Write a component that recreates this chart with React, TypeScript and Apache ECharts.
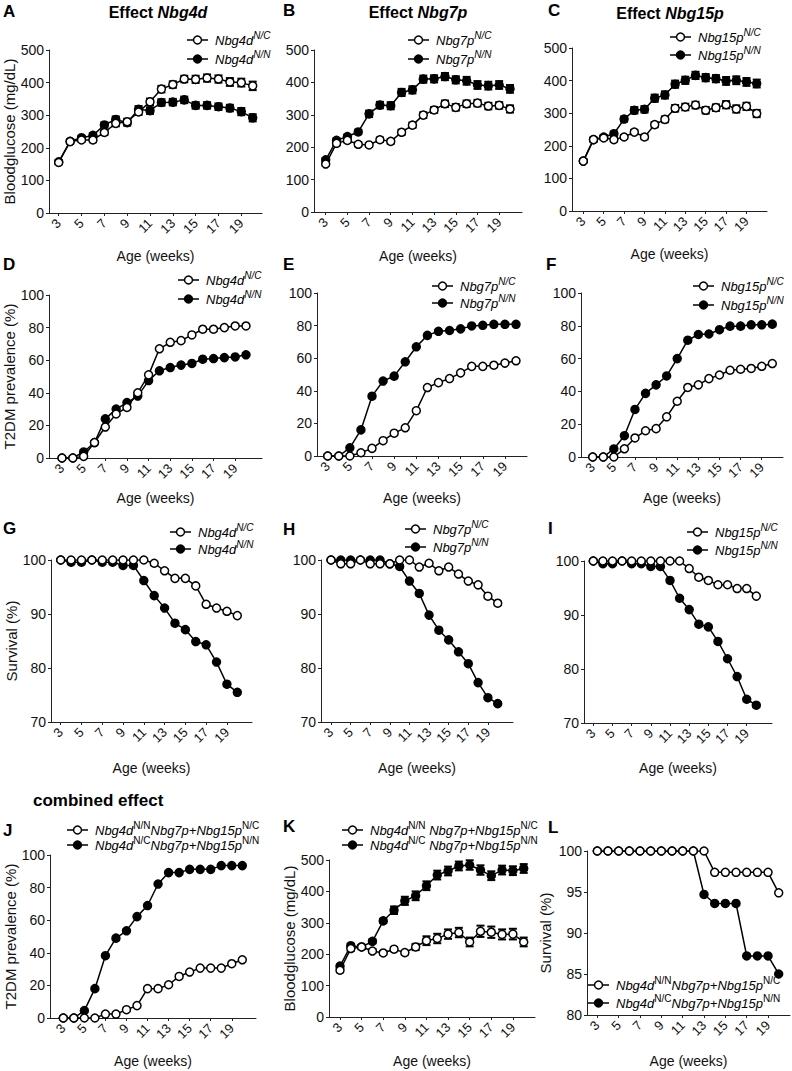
import React, { useEffect, useRef } from "react";
import * as echarts from "echarts";

const FONT = "'Liberation Sans', Arial, Helvetica, sans-serif";

// ---------- data ----------
const weeks = [3, 4, 5, 6, 7, 8, 9, 10, 11, 12, 13, 14, 15, 16, 17, 18, 19, 20];
const weekTickLabels = [3, 5, 7, 9, 11, 13, 15, 17, 19];

// A – Bloodglucose, Nbg4d
const glucoseNbg4dNC = [155, 219, 224, 224, 247, 275, 280, 310, 341, 380, 394, 411, 410, 414, 411, 402, 400, 390];
const glucoseNbg4dNCErr = [5, 6, 6, 7, 8, 9, 9, 9, 10, 10, 10, 10, 11, 11, 11, 12, 12, 13];
const glucoseNbg4dNN = [157, 220, 231, 238, 270, 287, 277, 318, 314, 339, 340, 347, 330, 330, 326, 322, 311, 292];
const glucoseNbg4dNNErr = [5, 6, 6, 7, 8, 9, 9, 10, 10, 10, 10, 10, 10, 10, 10, 10, 11, 11];
// B – Bloodglucose, Nbg7p
const glucoseNbg7pNC = [148, 212, 221, 209, 207, 223, 218, 246, 268, 299, 315, 334, 323, 334, 336, 327, 329, 318];
const glucoseNbg7pNCErr = [5, 6, 6, 6, 6, 7, 7, 8, 8, 9, 9, 10, 10, 10, 10, 10, 10, 11];
const glucoseNbg7pNN = [161, 221, 233, 247, 303, 330, 328, 369, 377, 410, 411, 418, 408, 405, 392, 390, 392, 380];
const glucoseNbg7pNNErr = [5, 6, 6, 7, 10, 10, 11, 11, 11, 11, 11, 11, 11, 12, 12, 12, 12, 12];
// C – Bloodglucose, Nbg15p
const glucoseNbg15pNC = [153, 219, 224, 219, 227, 242, 227, 265, 281, 315, 319, 325, 309, 317, 326, 313, 321, 299];
const glucoseNbg15pNCErr = [5, 6, 6, 6, 6, 7, 7, 8, 9, 10, 10, 10, 10, 10, 11, 11, 11, 11];
const glucoseNbg15pNN = [153, 219, 227, 237, 282, 309, 312, 346, 356, 389, 401, 416, 409, 406, 399, 401, 396, 391];
const glucoseNbg15pNNErr = [5, 6, 6, 7, 8, 10, 10, 11, 11, 11, 11, 11, 11, 11, 12, 12, 12, 12];

// D–F – T2DM prevalence (%)
const prevNbg4dNC = [0, 0, 1, 9.5, 19, 27, 31, 40, 51, 67, 71, 72, 75.5, 79, 79, 80, 81, 81];
const prevNbg4dNN = [0, 0, 3.7, 9.5, 24, 30, 34, 38, 47.5, 53.5, 55.5, 57, 58, 60.6, 61, 61.6, 62, 63.3];
const prevNbg7pNC = [0, 0, 0, 2, 4.7, 9.4, 14, 17.3, 27.8, 42, 45, 47.5, 51, 55, 55, 55.7, 57, 58.4];
const prevNbg7pNN = [0, 0, 5, 16, 36.7, 46, 49, 57.8, 67, 74, 76.5, 77, 78, 79.8, 80.2, 80.8, 80.8, 80.8];
const prevNbg15pNC = [0, 0, 0, 5, 11.6, 16, 17.3, 24.5, 34, 42.4, 44, 47.8, 50, 52.9, 53.5, 54, 55.3, 57];
const prevNbg15pNN = [0, 0, 4.9, 13, 29, 38.8, 44, 49.4, 60, 71.2, 74.7, 75, 77.6, 79.8, 79.8, 80.6, 80.6, 81];

// G–I – Survival (%)
const survNbg4dNC = [100, 100, 100, 100, 100, 100, 100, 100, 100, 99.4, 98, 96.6, 96.6, 95.2, 91.8, 91.1, 90.5, 89.7];
const survNbg4dNN = [100, 99.6, 99.6, 100, 99.6, 99.6, 99, 99, 96.2, 93.4, 91.1, 88.3, 87.1, 84.9, 84.3, 81.1, 77, 75.5];
const survNbg7pNC = [100, 99.3, 99.3, 100, 99.3, 99.3, 99.3, 100, 100, 98.7, 99.4, 98, 98.7, 97.4, 96.1, 95.4, 93.3, 92];
const survNbg7pNN = [100, 100, 100, 100, 100, 100, 99.3, 98.8, 96.1, 93.8, 89.8, 87, 85.2, 83, 80.8, 77.3, 74.5, 73.4];
const survNbg15pNC = [100, 100, 100, 100, 100, 100, 100, 100, 100, 100, 98.6, 97, 96.4, 95.6, 95.6, 94.9, 94.9, 93.5];
const survNbg15pNN = [100, 99.5, 99.5, 100, 99.5, 99.5, 99, 99, 96.4, 93.1, 91, 88.3, 87.8, 85.1, 81.9, 78.6, 74.4, 73.3];

// J–L – combined effect
const prevComboNC = [0, 0, 0, 0, 2.4, 2.4, 5.1, 7.6, 18, 18, 20.4, 25.5, 28.2, 30.6, 30.6, 30.6, 33.3, 35.7];
const prevComboNN = [0, 0, 4.5, 18, 38.2, 49, 53.5, 62.2, 69, 82.2, 89.2, 89.2, 91.2, 91.2, 91.2, 93.5, 93.5, 93.5];
const glucoseComboNC = [149, 218, 223, 210, 204, 216, 205, 223, 243, 250, 264, 269, 239, 273, 270, 263, 264, 239];
const glucoseComboNCErr = [6, 7, 7, 6, 6, 6, 6, 10, 14, 15, 15, 15, 14, 18, 18, 16, 17, 14];
const glucoseComboNN = [162, 227, 223, 241, 306, 340, 370, 386, 418, 452, 465, 481, 484, 468, 450, 468, 466, 473];
const glucoseComboNNErr = [5, 6, 6, 6, 7, 12, 13, 14, 14, 14, 14, 14, 15, 15, 14, 14, 14, 14];
const survComboNC = [100, 100, 100, 100, 100, 100, 100, 100, 100, 100, 100, 97.4, 97.4, 97.4, 97.4, 97.4, 97.4, 94.9];
const survComboNN = [100, 100, 100, 100, 100, 100, 100, 100, 100, 100, 94.7, 93.6, 93.6, 93.6, 87.2, 87.2, 87.2, 85];

// ---------- legend labels (rich text) ----------
const lg4dNC = "{i|Nbg4d}{si|N/C}";
const lg4dNN = "{i|Nbg4d}{si|N/N}";
const lg7pNC = "{i|Nbg7p}{si|N/C}";
const lg7pNN = "{i|Nbg7p}{si|N/N}";
const lg15pNC = "{i|Nbg15p}{si|N/C}";
const lg15pNN = "{i|Nbg15p}{si|N/N}";
const lgComboNC = "{i|Nbg4d}{s|N/N}{i|Nbg7p+Nbg15p}{s|N/C}";
const lgComboNN = "{i|Nbg4d}{s|N/C}{i|Nbg7p+Nbg15p}{s|N/N}";
const lgComboNCsp = "{i|Nbg4d}{s|N/N}{i| Nbg7p+Nbg15p}{s|N/C}";
const lgComboNNsp = "{i|Nbg4d}{s|N/C}{i| Nbg7p+Nbg15p}{s|N/N}";

const yGlucose = "Bloodglucose (mg/dL)";
const yPrev = "T2DM prevalence (%)";
const ySurv = "Survival (%)";
const xName = "Age (weeks)";

type Layout = {
  left: number; right: number; top: number; bottom: number;
  x3: number; x20: number; xNameY: number; yNameX: number | null;
};
type Panel = {
  letter: string; lx: number; ly: number;
  nc: number[]; nn: number[]; ncErr?: number[]; nnErr?: number[];
  yMin: number; yMax: number; yStep: number; yName: string;
  legend: { x: number; y1: number; y2: number; nc: string; nn: string };
  L: Layout;
};

const panels: Panel[] = [
  { letter: "A", lx: 3, ly: 11, nc: glucoseNbg4dNC, nn: glucoseNbg4dNN, ncErr: glucoseNbg4dNCErr, nnErr: glucoseNbg4dNNErr,
    yMin: 0, yMax: 500, yStep: 100, yName: yGlucose,
    legend: { x: 187, y1: 40, y2: 59, nc: lg4dNC, nn: lg4dNN },
    L: { left: 49, right: 262, top: 50, bottom: 213, x3: 58.7, x20: 252.7, xNameY: 257, yNameX: 10 } },
  { letter: "B", lx: 283, ly: 10, nc: glucoseNbg7pNC, nn: glucoseNbg7pNN, ncErr: glucoseNbg7pNCErr, nnErr: glucoseNbg7pNNErr,
    yMin: 0, yMax: 500, yStep: 100, yName: "",
    legend: { x: 408, y1: 40, y2: 59, nc: lg7pNC, nn: lg7pNN },
    L: { left: 314, right: 522, top: 50, bottom: 212, x3: 325.7, x20: 510, xNameY: 257, yNameX: null } },
  { letter: "C", lx: 548, ly: 10, nc: glucoseNbg15pNC, nn: glucoseNbg15pNN, ncErr: glucoseNbg15pNCErr, nnErr: glucoseNbg15pNNErr,
    yMin: 0, yMax: 500, yStep: 100, yName: "",
    legend: { x: 670, y1: 37, y2: 55, nc: lg15pNC, nn: lg15pNN },
    L: { left: 572, right: 767, top: 48, bottom: 211, x3: 583.3, x20: 756.7, xNameY: 255, yNameX: null } },
  { letter: "D", lx: 3, ly: 264, nc: prevNbg4dNC, nn: prevNbg4dNN,
    yMin: 0, yMax: 100, yStep: 20, yName: yPrev,
    legend: { x: 178, y1: 280, y2: 299, nc: lg4dNC, nn: lg4dNN },
    L: { left: 49, right: 262, top: 295, bottom: 458, x3: 62, x20: 246, xNameY: 499, yNameX: 12 } },
  { letter: "E", lx: 283, ly: 264, nc: prevNbg7pNC, nn: prevNbg7pNN,
    yMin: 0, yMax: 100, yStep: 20, yName: "",
    legend: { x: 432, y1: 286, y2: 303, nc: lg7pNC, nn: lg7pNN },
    L: { left: 317, right: 527, top: 293, bottom: 456, x3: 327.7, x20: 516, xNameY: 499, yNameX: null } },
  { letter: "F", lx: 546, ly: 264, nc: prevNbg15pNC, nn: prevNbg15pNN,
    yMin: 0, yMax: 100, yStep: 20, yName: "",
    legend: { x: 693, y1: 286, y2: 305, nc: lg15pNC, nn: lg15pNN },
    L: { left: 581, right: 783, top: 293, bottom: 457, x3: 592.7, x20: 772.3, xNameY: 499, yNameX: null } },
  { letter: "G", lx: 3, ly: 528, nc: survNbg4dNC, nn: survNbg4dNN,
    yMin: 70, yMax: 100, yStep: 10, yName: ySurv,
    legend: { x: 170, y1: 532, y2: 549, nc: lg4dNC, nn: lg4dNN },
    L: { left: 51, right: 252, top: 560, bottom: 722, x3: 60.7, x20: 237.3, xNameY: 769, yNameX: 15 } },
  { letter: "H", lx: 283, ly: 529, nc: survNbg7pNC, nn: survNbg7pNN,
    yMin: 70, yMax: 100, yStep: 10, yName: "",
    legend: { x: 405, y1: 529, y2: 547, nc: lg7pNC, nn: lg7pNN },
    L: { left: 321, right: 513, top: 560, bottom: 722, x3: 331, x20: 497.7, xNameY: 769, yNameX: null } },
  { letter: "I", lx: 548, ly: 528, nc: survNbg15pNC, nn: survNbg15pNN,
    yMin: 70, yMax: 100, yStep: 10, yName: "",
    legend: { x: 687, y1: 532, y2: 550, nc: lg15pNC, nn: lg15pNN },
    L: { left: 584, right: 772, top: 561, bottom: 723, x3: 593.3, x20: 756.3, xNameY: 769, yNameX: null } },
  { letter: "J", lx: 3, ly: 830, nc: prevComboNC, nn: prevComboNN,
    yMin: 0, yMax: 100, yStep: 20, yName: yPrev,
    legend: { x: 67, y1: 830, y2: 845, nc: lgComboNC, nn: lgComboNN },
    L: { left: 50, right: 256, top: 855, bottom: 1018, x3: 63.3, x20: 242.3, xNameY: 1062, yNameX: 13 } },
  { letter: "K", lx: 283, ly: 826, nc: glucoseComboNC, nn: glucoseComboNN, ncErr: glucoseComboNCErr, nnErr: glucoseComboNNErr,
    yMin: 0, yMax: 500, yStep: 100, yName: yGlucose,
    legend: { x: 342, y1: 830, y2: 845, nc: lgComboNCsp, nn: lgComboNNsp },
    L: { left: 329, right: 535, top: 860, bottom: 1017, x3: 340, x20: 523.7, xNameY: 1062, yNameX: 290 } },
  { letter: "L", lx: 548, ly: 827, nc: survComboNC, nn: survComboNN,
    yMin: 80, yMax: 100, yStep: 5, yName: ySurv,
    legend: { x: 588, y1: 985, y2: 1003, nc: lgComboNC, nn: lgComboNN },
    L: { left: 587, right: 790, top: 851, bottom: 1015, x3: 597.3, x20: 778.7, xNameY: 1062, yNameX: 545 } },
];

const titles = [
  { text: "Effect {bi|Nbg4d}", x: 158, y: 12 },
  { text: "Effect {bi|Nbg7p}", x: 418, y: 12 },
  { text: "Effect {bi|Nbg15p}", x: 670, y: 13 },
];

const legendRich = {
  i: { fontFamily: FONT, fontStyle: "italic", fontSize: 13, lineHeight: 20, color: "#000" },
  si: { fontFamily: FONT, fontStyle: "italic", fontSize: 10, lineHeight: 12, verticalAlign: "top", color: "#000" },
  s: { fontFamily: FONT, fontSize: 10, lineHeight: 12, verticalAlign: "top", color: "#000" },
};

function buildOption() {
  const grid: any[] = [];
  const xAxis: any[] = [];
  const yAxis: any[] = [];
  const series: any[] = [];
  const graphic: any[] = [];

  panels.forEach((p, i) => {
    const L = p.L;
    const pxw = (L.x20 - L.x3) / 17;
    const xMin = 3 - (L.x3 - L.left) / pxw;
    const xMax = 20 + (L.right - L.x20) / pxw;
    grid.push({ left: L.left, top: L.top, width: L.right - L.left, height: L.bottom - L.top, containLabel: false });
    xAxis.push({
      type: "value", gridIndex: i, min: xMin, max: xMax,
      axisLine: { show: true, lineStyle: { color: "#222", width: 1 } },
      axisTick: { show: true, length: 3, customValues: weekTickLabels, lineStyle: { color: "#222" } },
      axisLabel: { customValues: weekTickLabels, rotate: 45, fontSize: 13, color: "#111", margin: 8, fontFamily: FONT },
      splitLine: { show: false },
      name: xName, nameLocation: "middle", nameGap: L.xNameY - L.bottom - 8,
      nameTextStyle: { fontSize: 14, color: "#111", fontFamily: FONT },
    });
    yAxis.push({
      type: "value", gridIndex: i, min: p.yMin, max: p.yMax, interval: p.yStep,
      axisLine: { show: true, lineStyle: { color: "#222", width: 1 } },
      axisTick: { show: true, length: 3, lineStyle: { color: "#222" } },
      axisLabel: { fontSize: 14, color: "#111", margin: 5, fontFamily: FONT },
      splitLine: { show: false },
      name: p.yName, nameLocation: "middle", nameRotate: 90,
      nameGap: L.yNameX !== null ? L.left - L.yNameX - 8 : 30,
      nameTextStyle: { fontSize: 15, color: "#111", fontFamily: FONT },
    });

    const pts = (vals: number[]) => weeks.map((w, k) => [w, vals[k]]);
    const errSeries = (vals: number[], err: number[]) => ({
      type: "custom", xAxisIndex: i, yAxisIndex: i, z: 2, silent: true,
      encode: { x: 0, y: 1 },
      data: weeks.map((w, k) => [w, vals[k], err[k]]),
      renderItem: (_params: any, api: any) => {
        const x = api.value(0), y = api.value(1), e = api.value(2);
        const hi = api.coord([x, y + e]);
        const lo = api.coord([x, y - e]);
        const hw = 4;
        const st = { stroke: "#000", lineWidth: 2 };
        return {
          type: "group",
          children: [
            { type: "line", shape: { x1: hi[0], y1: hi[1], x2: lo[0], y2: lo[1] }, style: { stroke: "#000", lineWidth: 1.5 } },
            { type: "line", shape: { x1: hi[0] - hw, y1: hi[1], x2: hi[0] + hw, y2: hi[1] }, style: st },
            { type: "line", shape: { x1: lo[0] - hw, y1: lo[1], x2: lo[0] + hw, y2: lo[1] }, style: st },
          ],
        };
      },
    });
    if (p.ncErr) series.push(errSeries(p.nc, p.ncErr));
    if (p.nnErr) series.push(errSeries(p.nn, p.nnErr));
    const line = (vals: number[], fill: string, z: number) => ({
      type: "line", xAxisIndex: i, yAxisIndex: i, data: pts(vals), z, silent: true,
      symbol: "circle", symbolSize: 8, showSymbol: true,
      lineStyle: { color: "#000", width: 1.5 },
      itemStyle: { color: fill, borderColor: "#000", borderWidth: 1.5 },
      emphasis: { disabled: true },
    });
    series.push(line(p.nn, "#000", 3));
    series.push(line(p.nc, "#fff", 4));

    // panel letter
    graphic.push({ type: "text", x: p.lx, y: p.ly, style: { text: p.letter, fontFamily: FONT, fontWeight: "bold", fontSize: 17, fill: "#000", verticalAlign: "middle", align: "left" } });
    // legend
    const lg = p.legend;
    [[lg.y1, "#fff", lg.nc], [lg.y2, "#000", lg.nn]].forEach(([yy, fill, txt]: any) => {
      graphic.push({ type: "line", shape: { x1: lg.x, y1: yy, x2: lg.x + 21, y2: yy }, style: { stroke: "#000", lineWidth: 1.5 } });
      graphic.push({ type: "circle", shape: { cx: lg.x + 10.5, cy: yy, r: 4 }, style: { fill, stroke: "#000", lineWidth: 1.5 } });
      graphic.push({ type: "text", x: lg.x + 28, y: yy, style: { text: txt, rich: legendRich, verticalAlign: "middle", align: "left" } });
    });
  });

  titles.forEach((t) => {
    graphic.push({
      type: "text", x: t.x, y: t.y,
      style: {
        text: t.text, fontFamily: FONT, fontWeight: "bold", fontSize: 16, fill: "#000",
        align: "center", verticalAlign: "middle",
        rich: { bi: { fontFamily: FONT, fontWeight: "bold", fontStyle: "italic", fontSize: 16, color: "#000" } },
      },
    });
  });
  graphic.push({ type: "text", x: 33, y: 800, style: { text: "combined effect", fontFamily: FONT, fontWeight: "bold", fontSize: 17, fill: "#000", verticalAlign: "middle", align: "left" } });

  return {
    animation: false,
    backgroundColor: "#fff",
    textStyle: { fontFamily: FONT },
    grid, xAxis, yAxis, series, graphic,
  };
}

export default function App() {
  const ref = useRef<HTMLDivElement>(null);
  useEffect(() => {
    if (!ref.current) return;
    const chart = echarts.init(ref.current, undefined, { renderer: "svg" });
    chart.setOption(buildOption() as any);
    return () => chart.dispose();
  }, []);
  return <div ref={ref} style={{ position: "absolute", left: 0, top: 0, width: 792, height: 1071 }} />;
}
